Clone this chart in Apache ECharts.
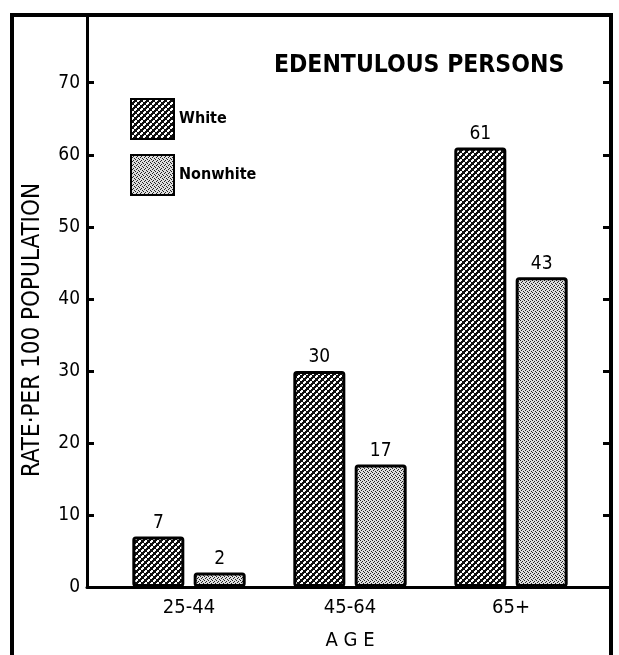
<!DOCTYPE html>
<html>
<head>
<meta charset="utf-8">
<script src="https://cdn.jsdelivr.net/npm/echarts@6/dist/echarts.min.js"></script>
<style>
  html, body { margin: 0; padding: 0; background: #fff; }
  #chart { width: 619px; height: 655px; }
</style>
</head>
<body>
<div id="chart"></div>
<script>
// data
const ageGroups = ["25-44", "45-64", "65+"];
const whiteRates = [7, 30, 61];
const nonwhiteRates = [2, 17, 43];
const rateTicks = [0, 10, 20, 30, 40, 50, 60, 70];

const FONT = "'DejaVu Sans Condensed', 'DejaVu Sans', sans-serif";
const yMax = 79.4;

// hatch tiles for the two bar fills
const makeTile = (size, bg, dots) => {
  const c = document.createElement("canvas");
  c.width = size;
  c.height = size;
  const ctx = c.getContext("2d");
  ctx.fillStyle = bg;
  ctx.fillRect(0, 0, size, size);
  ctx.fillStyle = dots.color;
  dots.points.forEach(p => ctx.fillRect(p[0], p[1], 1, 1));
  return c;
};
const whiteFill = {
  image: makeTile(6, "#111", {
    color: "#fff",
    points: [
      [1, 0], [2, 0], [0, 1], [1, 1], [2, 1], [0, 2], [1, 2],
      [4, 3], [5, 3], [3, 4], [4, 4], [5, 4], [3, 5], [4, 5]
    ]
  }),
  repeat: "repeat"
};
const nonwhiteFill = {
  image: makeTile(4, "#dedede", {
    color: "#222",
    points: [[0, 0], [2, 1], [1, 2], [3, 3]]
  }),
  repeat: "repeat"
};

const chart = echarts.init(document.getElementById("chart"));

const option = {
  backgroundColor: "#fff",
  animation: false,
  textStyle: { fontFamily: FONT, color: "#000" },
  title: {
    text: "EDENTULOUS PERSONS",
    left: 274,
    top: 53,
    padding: 0,
    textStyle: { fontFamily: FONT, fontSize: 24.5, fontWeight: "bold", color: "#000" }
  },
  legend: {
    orient: "vertical",
    left: 130,
    top: 98,
    padding: 0,
    itemWidth: 43,
    itemHeight: 40,
    itemGap: 14,
    icon: "rect",
    textStyle: { fontFamily: FONT, fontSize: 16, fontWeight: "bold", color: "#000" },
    data: ["White", "Nonwhite"]
  },
  graphic: [
    {
      type: "rect",
      shape: { x: 12, y: 15, width: 599, height: 700 },
      style: { fill: "none", stroke: "#000", lineWidth: 4 },
      z: 10
    }
  ],
  grid: [
    { left: 87, right: 8, top: 15, bottom: 68, outerBoundsMode: "none" },
    { left: 108.5, width: 483, top: 15, bottom: 68, outerBoundsMode: "none" }
  ],
  xAxis: [
    {
      gridIndex: 0,
      type: "value",
      min: 0,
      max: 1,
      axisLine: { show: true, lineStyle: { color: "#000", width: 3 } },
      axisTick: { show: false },
      axisLabel: { show: false },
      splitLine: { show: false }
    },
    {
      gridIndex: 1,
      type: "category",
      data: ageGroups,
      axisLine: { show: false },
      axisTick: { show: false },
      axisLabel: { fontFamily: FONT, fontSize: 20, color: "#000", margin: 11 },
      name: "A G E",
      nameLocation: "middle",
      nameGap: 44,
      nameTextStyle: { fontFamily: FONT, fontSize: 20, color: "#000" }
    }
  ],
  yAxis: [
    {
      gridIndex: 0,
      type: "value",
      min: 0,
      max: yMax,
      interval: 10,
      axisLine: { show: true, lineStyle: { color: "#000", width: 3 } },
      axisTick: { show: true, inside: true, length: 7, lineStyle: { color: "#000", width: 3 } },
      axisLabel: {
        fontFamily: FONT,
        fontSize: 19,
        color: "#000",
        margin: 7,
        formatter: v => (rateTicks.includes(v) ? String(v) : "")
      },
      splitLine: { show: false },
      name: "RATE·PER 100 POPULATION",
      nameLocation: "middle",
      nameGap: 42,
      nameTextStyle: { fontFamily: FONT, fontSize: 24, color: "#000", padding: [0, 58, 0, 0] }
    },
    {
      gridIndex: 0,
      type: "value",
      position: "right",
      min: 0,
      max: yMax,
      interval: 10,
      axisLine: { show: false },
      axisTick: { show: true, inside: true, length: 8, lineStyle: { color: "#000", width: 3 } },
      axisLabel: { show: false },
      splitLine: { show: false }
    },
    {
      gridIndex: 1,
      type: "value",
      min: 0,
      max: yMax,
      show: false
    }
  ],
  series: [
    {
      name: "White",
      type: "bar",
      xAxisIndex: 1,
      yAxisIndex: 2,
      data: whiteRates,
      barWidth: 52,
      barGap: "18%",
      itemStyle: { color: whiteFill, borderColor: "#000", borderWidth: 3, borderRadius: 2 },
      label: { show: true, position: "top", distance: 4, fontFamily: FONT, fontSize: 19, color: "#000" }
    },
    {
      name: "Nonwhite",
      type: "bar",
      xAxisIndex: 1,
      yAxisIndex: 2,
      data: nonwhiteRates,
      barWidth: 52,
      itemStyle: { color: nonwhiteFill, borderColor: "#000", borderWidth: 3, borderRadius: 2 },
      label: { show: true, position: "top", distance: 4, fontFamily: FONT, fontSize: 19, color: "#000" }
    }
  ]
};

chart.setOption(option);
</script>
</body>
</html>
